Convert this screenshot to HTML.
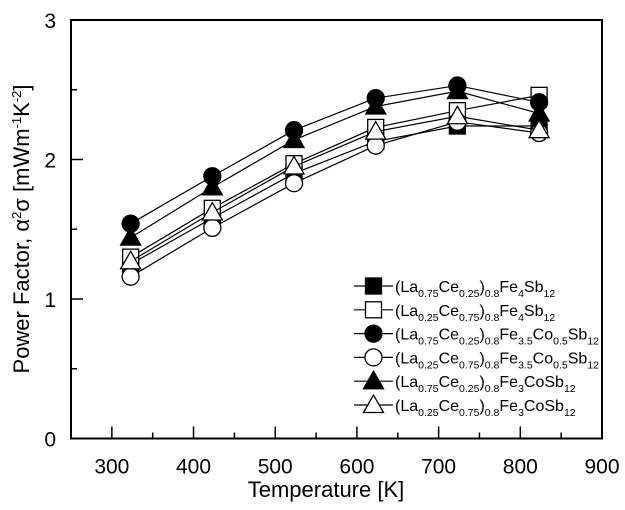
<!DOCTYPE html>
<html><head><meta charset="utf-8"><style>
body{margin:0;background:#fff;}
svg{display:block;font-family:"Liberation Sans",Arial,sans-serif;}
</style></head><body>
<svg id="chart" width="625" height="510" viewBox="0 0 625 510">
<g id="axes"></g>
<g id="series"></g>
<g id="legend"></g>
<text x="326" y="497" font-size="22" text-anchor="middle">Temperature [K]</text>
<text transform="translate(29,229) rotate(-90)" font-size="22" text-anchor="middle">Power Factor, α<tspan font-size="13" dy="-8">2</tspan><tspan dy="8">σ [mWm</tspan><tspan font-size="13" dy="-8">-1</tspan><tspan dy="8">K</tspan><tspan font-size="13" dy="-8">-2</tspan><tspan dy="8">]</tspan></text>
</svg>
<script>
const temps=[323,423,523,623,723,823];
const s1=[1.25,1.58,1.90,2.13,2.24,2.24];
const s2=[1.30,1.65,1.97,2.23,2.35,2.46];
const s3=[1.54,1.88,2.21,2.44,2.53,2.41];
const s4=[1.16,1.51,1.83,2.10,2.27,2.19];
const s5=[1.44,1.80,2.14,2.38,2.49,2.33];
const s6=[1.27,1.62,1.95,2.20,2.31,2.21];
const xTicks=[300,400,500,600,700,800,900];
const yTicks=[0,1,2,3];
const NS="http://www.w3.org/2000/svg";
const X0=71,X1=602,Y0=438.5,Y1=20;
function sx(t){return X0+(t-250)/(900-250)*(X1-X0);}
function sy(v){return Y0-v/3*(Y0-Y1);}
function mk(tag,attrs,parent){const e=document.createElementNS(NS,tag);for(const k in attrs)e.setAttribute(k,attrs[k]);parent.appendChild(e);return e;}
const ax=document.getElementById('axes');
const frame=mk('rect',{x:X0,y:Y1,width:X1-X0,height:Y0-Y1,fill:'none',stroke:'#000','stroke-width':2},ax);


xTicks.forEach(t=>{
 const l=mk('line',{x1:sx(t),x2:sx(t),y1:Y0,y2:Y0-12,stroke:'#000','stroke-width':1.5},ax);
 
 
 const m=mk('line',{x1:sx(t+50),x2:sx(t+50),y1:Y0,y2:Y0-6,stroke:'#000','stroke-width':1.5},ax);
 
 
 const tx=mk('text',{x:sx(t),y:Y0+35,'font-size':21,'text-anchor':'middle'},ax);tx.textContent=t;
 
 
});
yTicks.forEach(v=>{
 const l=mk('line',{x1:X0,x2:X0+12,y1:sy(v),y2:sy(v),stroke:'#000','stroke-width':1.5},ax);
 
 
 if(v<3){const m=mk('line',{x1:X0,x2:X0+6,y1:sy(v+0.5),y2:sy(v+0.5),stroke:'#000','stroke-width':1.5},ax);
 
 }
 const tx=mk('text',{x:X0-15,y:sy(v)+8,'font-size':21,'text-anchor':'end'},ax);tx.textContent=v;
 
 
});
function marker(p,shape,fill,x,y){
 const st={fill:fill?'#000':'#fff',stroke:'#000','stroke-width':1.3};
 let e;
 if(shape==='sq')e=mk('rect',Object.assign({x:x-8,y:y-8,width:16,height:16},st),p);
 else if(shape==='ci')e=mk('circle',Object.assign({cx:x,cy:y,r:8.5},st),p);
 else e=mk('polygon',Object.assign({points:`${x},${y-10} ${x-10},${y+7.5} ${x+10},${y+7.5}`},st),p);
 return e;
}
const seriesDefs=[[s1,'sq',true],[s2,'sq',false],[s3,'ci',true],[s4,'ci',false],[s5,'tr',true],[s6,'tr',false]];
const names=['la75-fe4','la25-fe4','la75-fe35co05','la25-fe35co05','la75-fe3co','la25-fe3co'];
const sg=document.getElementById('series');
seriesDefs.forEach((d,i)=>{
 const g=mk('g',{},sg);
 
 
 const pl=mk('polyline',{points:temps.map((t,j)=>sx(t)+','+sy(d[0][j])).join(' '),fill:'none',stroke:'#000','stroke-width':1.2},g);
 
 
 temps.forEach((t,j)=>{const m=marker(g,d[1],d[2],sx(t),sy(d[0][j]));
 
 });
});
const labels=[
 ['0.75','0.25','Fe','4','','','Sb'],
 ['0.25','0.75','Fe','4','','','Sb'],
 ['0.75','0.25','Fe','3.5','Co','0.5','Sb'],
 ['0.25','0.75','Fe','3.5','Co','0.5','Sb'],
 ['0.75','0.25','Fe','3','CoSb','',''],
 ['0.25','0.75','Fe','3','CoSb','','']];
const lg=document.getElementById('legend');
seriesDefs.forEach((d,i)=>{
 const y=286+i*23.8;
 const g=mk('g',{},lg);
 
 
 mk('line',{x1:354,x2:393,y1:y,y2:y,stroke:'#000','stroke-width':1.2},g);
 marker(g,d[1],d[2],373.5,y);
 const L=labels[i];
 const t=mk('text',{x:395,y:y+6,'font-size':16},g);
 let h=`(La<tspan font-size="10.5" dy="5">${L[0]}</tspan><tspan dy="-5">Ce</tspan><tspan font-size="10.5" dy="5">${L[1]}</tspan><tspan dy="-5">)</tspan><tspan font-size="10.5" dy="5">0.8</tspan><tspan dy="-5">Fe</tspan><tspan font-size="10.5" dy="5">${L[3]}</tspan>`;
 if(L[4]==='Co') h+=`<tspan dy="-5">Co</tspan><tspan font-size="10.5" dy="5">${L[5]}</tspan><tspan dy="-5">Sb</tspan>`;
 else if(L[4]==='CoSb') h+=`<tspan dy="-5">CoSb</tspan>`;
 else h+=`<tspan dy="-5">Sb</tspan>`;
 h+=`<tspan font-size="10.5" dy="5">12</tspan>`;
 t.innerHTML=h;
});
</script>
</body></html>
